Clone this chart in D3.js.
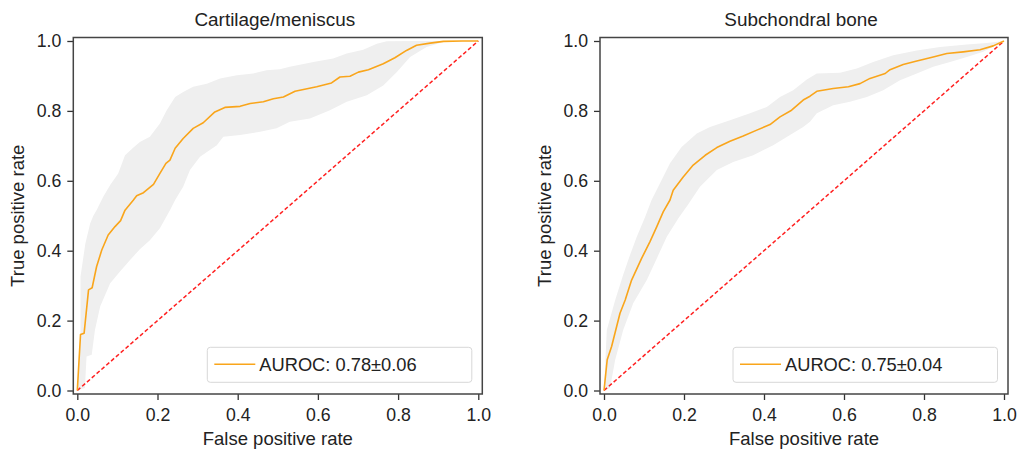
<!DOCTYPE html>
<html>
<head>
<meta charset="utf-8">
<script src="https://cdn.jsdelivr.net/npm/d3@7"></script>
<style>
  html, body { margin: 0; padding: 0; background: #fff; }
  svg { display: block; font-family: "Liberation Sans", Arial, Helvetica, sans-serif; }
</style>
</head>
<body>
<svg id="chart" width="1017" height="452"></svg>
<script>
// ---------- DATA ----------
const titles = ["Cartilage/meniscus", "Subchondral bone"];
const legendLabels = ["AUROC: 0.78\u00b10.06", "AUROC: 0.75\u00b10.04"];
const tickValues = [0.0, 0.2, 0.4, 0.6, 0.8, 1.0];
const xLabel = "False positive rate";
const yLabel = "True positive rate";

// Panel 1: Cartilage/meniscus - mean ROC
const cartMeanFpr = [0, 0.008, 0.017, 0.028, 0.037, 0.048, 0.061, 0.077, 0.094, 0.108, 0.119, 0.14, 0.148, 0.165, 0.19, 0.206, 0.221, 0.231, 0.244, 0.264, 0.289, 0.314, 0.343, 0.368, 0.406, 0.431, 0.464, 0.489, 0.514, 0.543, 0.597, 0.634, 0.655, 0.68, 0.701, 0.726, 0.763, 0.792, 0.821, 0.846, 0.88, 0.913, 0.96, 1.0];
const cartMeanTpr = [0, 0.16, 0.164, 0.288, 0.294, 0.354, 0.402, 0.445, 0.469, 0.486, 0.516, 0.545, 0.557, 0.566, 0.59, 0.621, 0.65, 0.659, 0.693, 0.721, 0.75, 0.766, 0.797, 0.81, 0.813, 0.821, 0.826, 0.835, 0.84, 0.856, 0.869, 0.88, 0.897, 0.899, 0.911, 0.918, 0.935, 0.952, 0.973, 0.988, 0.994, 0.999, 1.0, 1.0];
// Panel 1: band upper / lower edges
const cartUpperFpr = [0, 0.004, 0.008, 0.008, 0.02, 0.032, 0.04, 0.048, 0.065, 0.082, 0.102, 0.119, 0.14, 0.156, 0.181, 0.206, 0.223, 0.244, 0.264, 0.289, 0.323, 0.356, 0.398, 0.439, 0.472, 0.505, 0.53, 0.589, 0.638, 0.672, 0.713, 0.747, 0.772, 0.85, 1.0];
const cartUpperTpr = [0, 0.1, 0.15, 0.326, 0.42, 0.478, 0.5, 0.516, 0.555, 0.588, 0.621, 0.673, 0.695, 0.711, 0.726, 0.764, 0.802, 0.84, 0.854, 0.869, 0.878, 0.893, 0.902, 0.907, 0.916, 0.919, 0.926, 0.94, 0.95, 0.964, 0.975, 0.992, 0.999, 1.0, 1.0];
const cartLowerFpr = [0, 0.019, 0.023, 0.036, 0.044, 0.057, 0.082, 0.106, 0.131, 0.156, 0.181, 0.206, 0.231, 0.244, 0.264, 0.281, 0.306, 0.348, 0.364, 0.406, 0.456, 0.497, 0.53, 0.58, 0.63, 0.672, 0.722, 0.763, 0.797, 0.83, 0.871, 0.913, 0.946, 1.0];
const cartLowerTpr = [0, 0.007, 0.097, 0.102, 0.173, 0.24, 0.307, 0.34, 0.373, 0.404, 0.43, 0.464, 0.516, 0.545, 0.583, 0.631, 0.669, 0.702, 0.726, 0.731, 0.74, 0.75, 0.769, 0.778, 0.802, 0.826, 0.845, 0.873, 0.911, 0.954, 0.983, 0.997, 1.0, 1.0];

// Panel 2: Subchondral bone - mean ROC
const boneMeanFpr = [0, 0.008, 0.019, 0.04, 0.053, 0.069, 0.094, 0.115, 0.132, 0.148, 0.165, 0.173, 0.198, 0.223, 0.253, 0.282, 0.315, 0.348, 0.382, 0.415, 0.44, 0.469, 0.498, 0.515, 0.532, 0.573, 0.611, 0.64, 0.665, 0.703, 0.715, 0.748, 0.782, 0.823, 0.857, 0.898, 0.94, 0.973, 1.0];
const boneMeanTpr = [0, 0.088, 0.126, 0.221, 0.259, 0.316, 0.378, 0.426, 0.469, 0.511, 0.545, 0.573, 0.611, 0.645, 0.673, 0.695, 0.713, 0.728, 0.745, 0.761, 0.783, 0.802, 0.831, 0.842, 0.856, 0.864, 0.869, 0.878, 0.893, 0.907, 0.918, 0.933, 0.943, 0.954, 0.964, 0.969, 0.975, 0.986, 1.0];
// Panel 2: band upper / lower edges
const boneUpperFpr = [0, 0.007, 0.028, 0.048, 0.065, 0.082, 0.103, 0.119, 0.14, 0.165, 0.194, 0.232, 0.265, 0.315, 0.365, 0.407, 0.44, 0.473, 0.507, 0.532, 0.59, 0.632, 0.673, 0.723, 0.782, 0.84, 0.907, 0.957, 1.0];
const boneUpperTpr = [0, 0.173, 0.259, 0.331, 0.388, 0.44, 0.497, 0.545, 0.593, 0.65, 0.697, 0.735, 0.754, 0.773, 0.793, 0.811, 0.84, 0.859, 0.89, 0.907, 0.909, 0.921, 0.94, 0.959, 0.973, 0.983, 0.99, 0.994, 1.0];
const boneLowerFpr = [0, 0.015, 0.028, 0.048, 0.073, 0.107, 0.132, 0.157, 0.186, 0.209, 0.24, 0.282, 0.323, 0.373, 0.423, 0.465, 0.498, 0.515, 0.532, 0.573, 0.615, 0.657, 0.698, 0.74, 0.782, 0.823, 0.865, 0.907, 0.948, 0.98, 1.0];
const boneLowerTpr = [0, 0.007, 0.088, 0.173, 0.25, 0.316, 0.378, 0.44, 0.493, 0.53, 0.583, 0.631, 0.654, 0.673, 0.702, 0.731, 0.754, 0.769, 0.793, 0.816, 0.826, 0.84, 0.859, 0.888, 0.907, 0.926, 0.94, 0.954, 0.969, 0.988, 1.0];

const chanceLine = [0, 1];

// ---------- LAYOUT ----------
const panels = [
  { title: titles[0], legend: legendLabels[0],
    mean: [cartMeanFpr, cartMeanTpr], upper: [cartUpperFpr, cartUpperTpr], lower: [cartLowerFpr, cartLowerTpr],
    left: 73.3, right: 482.3, ylabX: 24 },
  { title: titles[1], legend: legendLabels[1],
    mean: [boneMeanFpr, boneMeanTpr], upper: [boneUpperFpr, boneUpperTpr], lower: [boneLowerFpr, boneLowerTpr],
    left: 600, right: 1008, ylabX: 551 }
];
const plotTop = 37.5, plotBottom = 394;
const dom = [-0.01, 1.01];

const svg = d3.select("#chart");
const zip = (xs, ys) => xs.map((x, i) => [x, ys[i]]);

panels.forEach(p => {
  const x = d3.scaleLinear().domain(dom).range([p.left, p.right]);
  const y = d3.scaleLinear().domain(dom).range([plotBottom, plotTop]);
  const g = svg.append("g");

  const clipId = "clip" + Math.round(p.left);
  svg.append("clipPath").attr("id", clipId).append("rect")
    .attr("x", p.left).attr("y", plotTop).attr("width", p.right - p.left).attr("height", plotBottom - plotTop);

  const line = d3.line().x(d => x(d[0])).y(d => y(d[1]));
  const plot = g.append("g").attr("clip-path", `url(#${clipId})`);

  // band polygon
  const upper = zip(p.upper[0], p.upper[1]);
  const lower = zip(p.lower[0], p.lower[1]).reverse();
  plot.append("path")
    .attr("d", line(upper.concat(lower)) + "Z")
    .attr("fill", "#efefef").attr("stroke", "none");

  // chance diagonal
  plot.append("path")
    .attr("d", line(zip(chanceLine, chanceLine)))
    .attr("fill", "none").attr("stroke", "#ff2020")
    .attr("stroke-width", 1.5).attr("stroke-dasharray", "4,2.4");

  // mean ROC
  plot.append("path")
    .attr("d", line(zip(p.mean[0], p.mean[1])))
    .attr("fill", "none").attr("stroke", "#f9a51b")
    .attr("stroke-width", 1.6).attr("stroke-linejoin", "round");

  // axes
  const fmt = d3.format(".1f");
  const xAxis = g.append("g").attr("transform", `translate(0,${plotBottom})`)
    .call(d3.axisBottom(x).tickValues(tickValues).tickFormat(fmt).tickSize(6).tickPadding(5));
  const yAxis = g.append("g").attr("transform", `translate(${p.left},0)`)
    .call(d3.axisLeft(y).tickValues(tickValues).tickFormat(fmt).tickSize(6).tickPadding(6));
  [xAxis, yAxis].forEach(a => {
    a.select(".domain").remove();
    a.selectAll(".tick line").attr("stroke", "#333").attr("stroke-width", 1.3);
    a.selectAll(".tick text").attr("fill", "#222").style("font-size", "17.7px")
      .style("font-family", '"Liberation Sans", Arial, sans-serif');
  });
  xAxis.selectAll(".tick text").attr("dy", "0.93em");

  // frame
  g.append("rect")
    .attr("x", p.left).attr("y", plotTop).attr("width", p.right - p.left).attr("height", plotBottom - plotTop)
    .attr("fill", "none").attr("stroke", "#444").attr("stroke-width", 1.5);

  // title
  g.append("text").attr("x", (p.left + p.right) / 2 - 3).attr("y", 26)
    .attr("text-anchor", "middle").attr("fill", "#222").style("font-size", "18.9px").text(p.title);

  // x label
  g.append("text").attr("x", x(0.5)).attr("y", 445)
    .attr("text-anchor", "middle").attr("fill", "#222").style("font-size", "18.5px").text(xLabel);

  // y label
  g.append("text").attr("transform", `translate(${p.ylabX},${(plotTop + plotBottom) / 2}) rotate(-90)`)
    .attr("text-anchor", "middle").attr("fill", "#222").style("font-size", "18.5px").text(yLabel);

  // legend
  const lw = 264.5, lh = 35;
  const lx = p.right - 10.5 - lw, ly = 347.3;
  const leg = g.append("g");
  leg.append("rect").attr("x", lx).attr("y", ly).attr("width", lw).attr("height", lh)
    .attr("rx", 3).attr("fill", "#fff").attr("fill-opacity", 0.85)
    .attr("stroke", "#d8d8d8").attr("stroke-width", 1);
  leg.append("line").attr("x1", lx + 7).attr("x2", lx + 48).attr("y1", ly + 17).attr("y2", ly + 17)
    .attr("stroke", "#f9a51b").attr("stroke-width", 1.6);
  leg.append("text").attr("x", lx + 52).attr("y", ly + 23.5)
    .attr("fill", "#222").style("font-size", "18.3px").text(p.legend);
});
</script>
</body>
</html>
